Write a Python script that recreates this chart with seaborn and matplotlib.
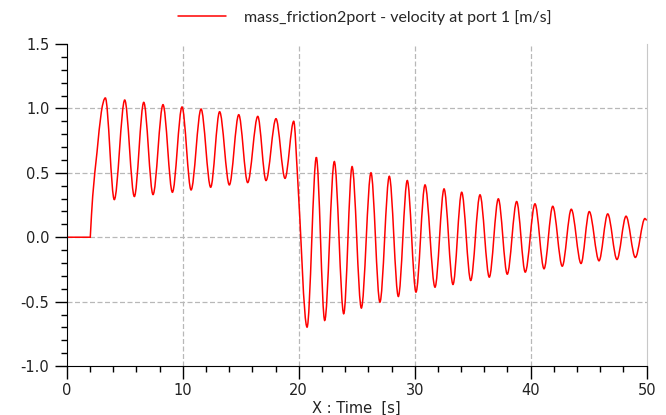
import pandas as pd
import matplotlib.pyplot as plt
import seaborn as sns
from matplotlib.path import Path
from matplotlib.patches import PathPatch
from matplotlib.lines import Line2D
from matplotlib.ticker import MultipleLocator

# points (start, rise, then each peak / trough)
time_s = [0.0, 2.03, 2.24, 2.61, 2.98, 3.33, 4.10, 5.00, 5.83, 6.64, 7.44, 8.30,
          9.11, 9.94, 10.72, 11.58, 12.41, 13.18, 14.02, 14.83, 15.60, 16.47,
          17.18, 18.04, 18.82, 19.57, 19.90, 20.72, 21.52, 22.24, 23.07, 23.88,
          24.60, 25.40, 26.23, 27.00, 27.81, 28.59, 29.36, 30.11, 30.89, 31.75,
          32.53, 33.30, 34.05, 34.83, 35.63, 36.43, 37.21, 37.98, 38.79, 39.53,
          40.37, 41.15, 41.90, 42.72, 43.50, 44.34, 45.05, 45.89, 46.64, 47.44,
          48.22, 49.02, 49.85, 50.0]
velocity = [0, 0, 0.32, 0.66, 0.97, 1.081, 0.292, 1.065, 0.316, 1.047, 0.331,
            1.029, 0.349, 1.011, 0.367, 0.995, 0.388, 0.974, 0.406, 0.951, 0.424,
            0.938, 0.44, 0.92, 0.457, 0.90, 0.47, -0.698, 0.62, -0.646, 0.587,
            -0.594, 0.548, -0.55, 0.50, -0.504, 0.473, -0.46, 0.44, -0.426, 0.406,
            -0.388, 0.375, -0.367, 0.349, -0.336, 0.329, -0.31, 0.298, -0.287,
            0.277, -0.271, 0.259, -0.245, 0.24, -0.225, 0.217, -0.204, 0.199,
            -0.183, 0.181, -0.173, 0.163, -0.157, 0.145, 0.13]
series_name = 'mass_friction2port - velocity at port 1 [m/s]'
x_ticks = [0, 10, 20, 30, 40, 50]
y_ticks = [-1.0, -0.5, 0.0, 0.5, 1.0, 1.5]

df = pd.DataFrame({'Time': time_s, 'v': velocity})

sns.set_style('white')
plt.rcParams['font.family'] = ['DejaVu Sans']

fig = plt.figure(figsize=(6.66, 4.15), dpi=100)
ax = fig.add_axes([0.1002, 0.118, 0.8708, 0.776])


def slopes(t, v):
    # flat tangent at peaks/troughs, otherwise central difference
    m = []
    n = len(t)
    for i in range(n):
        if i == 0 or i == n - 1:
            m.append((v[min(i + 1, n - 1)] - v[max(i - 1, 0)]) /
                     (t[min(i + 1, n - 1)] - t[max(i - 1, 0)]))
            continue
        a, b = v[i] - v[i - 1], v[i + 1] - v[i]
        if a * b <= 0:
            m.append(0.0 if a != 0 else b / (t[i + 1] - t[i]))
        else:
            m.append((v[i + 1] - v[i - 1]) / (t[i + 1] - t[i - 1]))
    return m


# smooth curve through the read points (cubic segments, drawn in data coords)
t, v = df['Time'].tolist(), df['v'].tolist()
m = slopes(t, v)
m[0] = 0.0
verts, codes = [(t[0], v[0])], [Path.MOVETO]
for i in range(len(t) - 1):
    dt = t[i + 1] - t[i]
    if v[i] == v[i + 1] and m[i] == 0:
        verts.append((t[i + 1], v[i + 1]))
        codes.append(Path.LINETO)
        continue
    verts += [(t[i] + dt / 3, v[i] + m[i] * dt / 3),
              (t[i + 1] - dt / 3, v[i + 1] - m[i + 1] * dt / 3),
              (t[i + 1], v[i + 1])]
    codes += [Path.CURVE4] * 3
ax.add_patch(PathPatch(Path(verts, codes), facecolor='none', edgecolor='#ff0000',
                       linewidth=1.1, transform=ax.transData))

ax.set_xlim(0, 50)
ax.set_ylim(-1.0, 1.5)
ax.set_xticks(x_ticks)
ax.set_yticks(y_ticks)
ax.set_yticklabels([f'{y:.1f}' for y in y_ticks])
ax.xaxis.set_minor_locator(MultipleLocator(2))
ax.yaxis.set_minor_locator(MultipleLocator(0.1))
ax.tick_params(which='major', direction='out', length=9, width=1, color='black',
               labelsize=10.5, labelcolor='#222222', bottom=True, left=True)
ax.tick_params(which='minor', direction='out', length=4.5, width=1, color='black',
               bottom=True, left=True)
ax.tick_params(axis='x', pad=3)

ax.grid(True, which='major', color='#b8b8b8', linestyle=(0, (4, 2)), linewidth=0.9)
# no grid line on the frame edges
for gl in [ax.xaxis.get_gridlines()[0], ax.xaxis.get_gridlines()[-1],
           ax.yaxis.get_gridlines()[0], ax.yaxis.get_gridlines()[-1]]:
    gl.set_visible(False)

sns.despine(ax=ax, top=True, right=False)
ax.spines['right'].set_color('#c8c8c8')
ax.spines['left'].set_color('black')
ax.spines['bottom'].set_color('black')

ax.set_xlabel('X : Time  [s]', fontsize=10.5, color='#222222', labelpad=2)
ax.set_ylabel('')

handle = Line2D([], [], color='#ff0000', linewidth=1.1)
ax.legend([handle], [series_name], loc='center', bbox_to_anchor=(0.514, 1.082),
          frameon=False, handlelength=3.0, handletextpad=1.1,
          prop={'family': 'Lato', 'size': 11.5})

fig.savefig('out.png', dpi=100)
